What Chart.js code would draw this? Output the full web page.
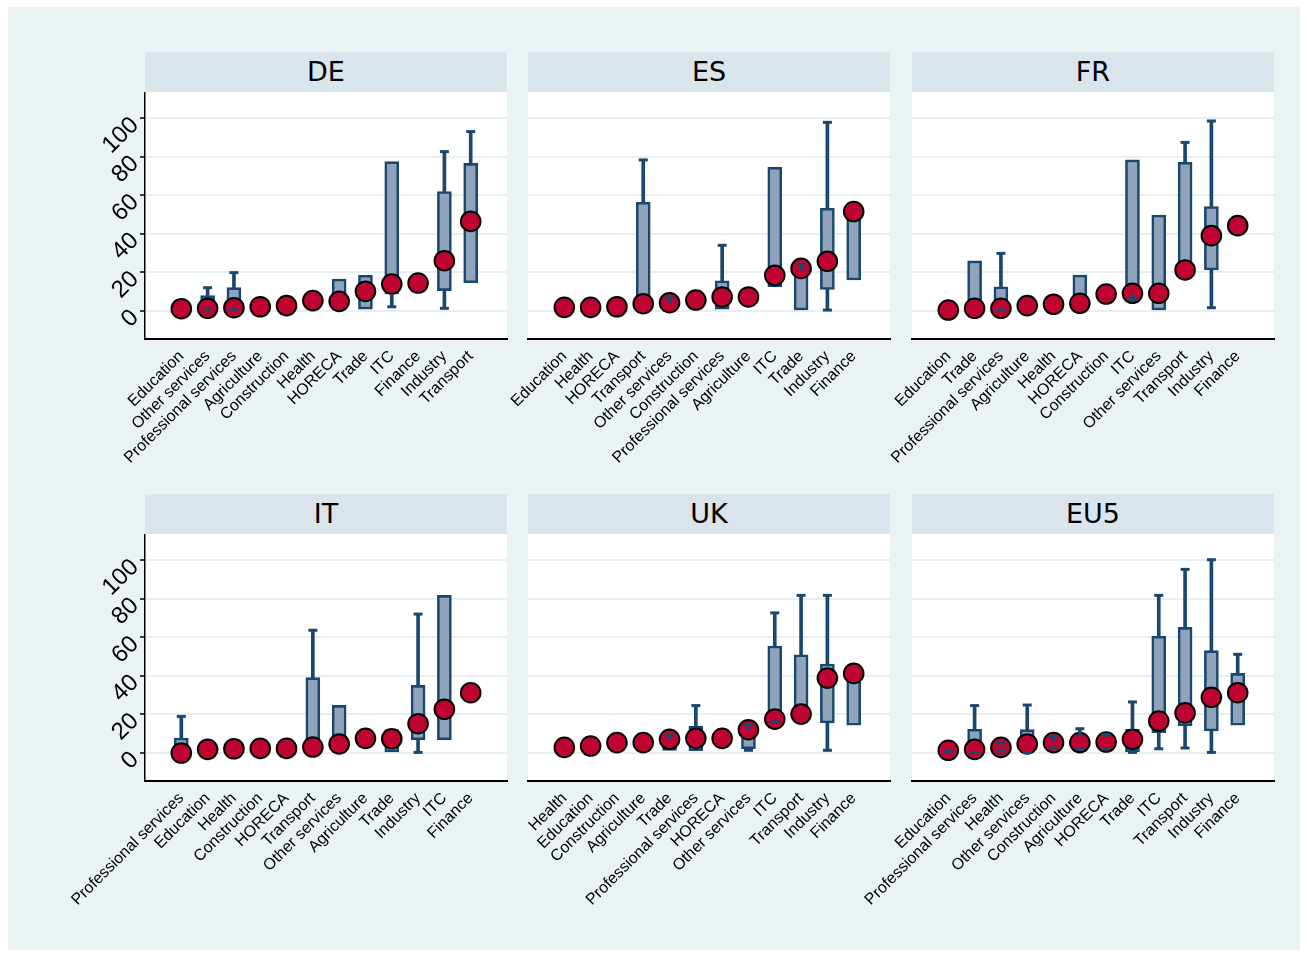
<!DOCTYPE html>
<html>
<head>
<meta charset="utf-8">
<script src="https://cdn.jsdelivr.net/npm/chart.js@4/dist/chart.umd.min.js"></script>
<style>
  html, body { margin: 0; padding: 0; background: #ffffff; }
  #frame { position: absolute; left: 8px; top: 7px; width: 1292px; height: 943px; background: #eaf2f3; }
  .band {
    position: absolute; width: 362px; height: 40px; background: #d9e5eb;
    font: 27px "DejaVu Sans", sans-serif; color: #000; text-align: center; line-height: 40px;
  }
  canvas { position: absolute; }
</style>
</head>
<body>
<div id="frame"></div>
<script>
// Shared value axis ticks
const yTickValues = [0, 20, 40, 60, 80, 100];

// DE
const deCategories = ['Education', 'Other services', 'Professional services', 'Agriculture', 'Construction', 'Health', 'HORECA', 'Trade', 'ITC', 'Finance', 'Industry', 'Transport'];
const deMedian = [1.2, 1.4, 1.7, 2.2, 2.8, 5.4, 5.0, 10.2, 14.0, 14.5, 26.1, 46.5];
const deQ1     = [null, 0.8, 0.8, null, null, null, 2.0, 1.0, 8.8, null, 10.6, 14.7];
const deQ3     = [null, 8.0, 12.1, null, null, null, 16.6, 18.5, 77.5, null, 62.0, 76.6];
const deLow    = [null, 0.5, 0.5, null, null, null, null, null, 2.2, null, 1.4, null];
const deHigh   = [null, 12.1, 19.9, null, null, null, null, null, null, null, 82.7, 93.1];

// ES
const esCategories = ['Education', 'Health', 'HORECA', 'Transport', 'Other services', 'Construction', 'Professional services', 'Agriculture', 'ITC', 'Trade', 'Industry', 'Finance'];
const esMedian = [1.9, 1.9, 2.2, 3.8, 4.3, 5.7, 7.3, 7.3, 18.5, 22.1, 25.8, 51.6];
const esQ1     = [null, null, null, 1.0, 0.0, null, 0.9, null, 12.6, 0.5, 11.2, 16.1];
const esQ3     = [null, null, null, 56.4, 4.5, null, 15.7, null, 74.6, 21.0, 53.3, 50.0];
const esLow    = [null, null, null, null, null, null, null, null, null, null, 0.5, null];
const esHigh   = [null, null, null, 78.4, 7.4, null, 34.1, null, null, 24.2, 97.9, null];

// FR
const frCategories = ['Education', 'Trade', 'Professional services', 'Agriculture', 'Health', 'HORECA', 'Construction', 'ITC', 'Other services', 'Transport', 'Industry', 'Finance'];
const frMedian = [0.5, 1.4, 1.4, 2.8, 3.5, 4.0, 8.8, 9.2, 9.2, 21.3, 39.1, 44.3];
const frQ1     = [null, 0.5, 0.8, null, null, 1.0, null, 8.8, 0.5, 18.0, 21.3, null];
const frQ3     = [null, 26.0, 12.6, null, null, 18.7, null, 78.4, 49.8, 77.2, 54.2, null];
const frLow    = [null, null, 0.5, null, null, null, null, 6.0, null, null, 1.7, null];
const frHigh   = [null, null, 29.9, null, null, null, null, null, null, 87.5, 98.6, null];

// IT
const itCategories = ['Professional services', 'Education', 'Health', 'Construction', 'HORECA', 'Transport', 'Other services', 'Agriculture', 'Trade', 'Industry', 'ITC', 'Finance'];
const itMedian = [0.0, 1.9, 2.2, 2.4, 2.4, 3.1, 4.7, 7.6, 7.4, 15.2, 22.7, 31.3];
const itQ1     = [0.0, null, null, null, null, 1.0, 0.5, null, 0.5, 6.9, 6.9, null];
const itQ3     = [7.8, null, null, null, null, 39.1, 24.7, null, 12.1, 35.1, 81.8, null];
const itLow    = [null, null, null, null, null, null, null, null, null, 0.3, null, null];
const itHigh   = [19.0, null, null, null, null, 63.7, null, null, null, 72.1, null, null];

// UK
const ukCategories = ['Health', 'Education', 'Construction', 'Agriculture', 'Trade', 'Professional services', 'HORECA', 'Other services', 'ITC', 'Transport', 'Industry', 'Finance'];
const ukMedian = [2.9, 3.6, 5.4, 5.4, 7.1, 7.6, 7.6, 12.1, 17.6, 20.2, 38.9, 41.3];
const ukQ1     = [null, null, null, null, 1.4, 1.2, null, 2.2, 16.5, 20.0, 15.6, 14.4];
const ukQ3     = [null, null, null, null, 7.0, 14.0, null, 12.0, 55.5, 51.0, 46.2, 40.0];
const ukLow    = [null, null, null, null, null, null, null, 1.4, 16.1, null, 1.4, null];
const ukHigh   = [null, null, null, null, 9.5, 24.6, null, 14.7, 72.7, 81.8, 81.8, null];

// EU5
const eu5Categories = ['Education', 'Professional services', 'Health', 'Other services', 'Construction', 'Agriculture', 'HORECA', 'Trade', 'ITC', 'Transport', 'Industry', 'Finance'];
const eu5Median = [1.4, 1.9, 2.9, 4.7, 5.4, 5.4, 5.7, 7.1, 16.6, 20.8, 28.9, 31.3];
const eu5Q1     = [1.0, 0.3, 1.0, 0.5, 3.0, 2.2, 3.0, 0.5, 10.6, 14.0, 11.4, 14.4];
const eu5Q3     = [1.0, 12.3, 5.2, 12.1, 6.5, 8.8, 8.0, 12.3, 60.6, 65.2, 53.1, 41.3];
const eu5Low    = [1.0, 0.2, 1.0, 0.3, 2.6, 1.9, 2.2, 0.3, 2.2, 2.6, 0.3, null];
const eu5High   = [1.0, 24.6, 5.2, 24.9, 8.7, 12.6, 9.7, 26.5, 81.8, 95.3, 100.3, 51.2];

const panels = [
  { title: 'DE',  cats: deCategories,  med: deMedian,  q1: deQ1,  q3: deQ3,  lo: deLow,  hi: deHigh,  col: 0, row: 0 },
  { title: 'ES',  cats: esCategories,  med: esMedian,  q1: esQ1,  q3: esQ3,  lo: esLow,  hi: esHigh,  col: 1, row: 0 },
  { title: 'FR',  cats: frCategories,  med: frMedian,  q1: frQ1,  q3: frQ3,  lo: frLow,  hi: frHigh,  col: 2, row: 0 },
  { title: 'IT',  cats: itCategories,  med: itMedian,  q1: itQ1,  q3: itQ3,  lo: itLow,  hi: itHigh,  col: 0, row: 1 },
  { title: 'UK',  cats: ukCategories,  med: ukMedian,  q1: ukQ1,  q3: ukQ3,  lo: ukLow,  hi: ukHigh,  col: 1, row: 1 },
  { title: 'EU5', cats: eu5Categories, med: eu5Median, q1: eu5Q1, q3: eu5Q3, lo: eu5Low, hi: eu5High, col: 2, row: 1 }
];

// Layout
const colLefts = [145, 528, 912];
const rowTops = [52, 494];
const BAND_H = 40, PLOT_W = 362, PLOT_H = 247;
const LEFT_GUTTER = 110, RIGHT_GUTTER = 12, BOTTOM_GUTTER = 153;

// Colours
const NAVY = '#1a476f';
const BOX_FILL = '#8fa4ba';
const DOT_FILL = '#c00432';
const GRID = '#e6eff1';
const LABEL_FONT = '"Liberation Sans", Arial, sans-serif';

// White plot region
const plotBackground = {
  id: 'plotBackground',
  beforeDraw(chart) {
    const { ctx, chartArea: a } = chart;
    ctx.save();
    ctx.fillStyle = '#ffffff';
    ctx.fillRect(a.left, a.top, a.right - a.left, a.bottom - a.top);
    ctx.restore();
  }
};

// Value-axis labels drawn at a 45 degree slant
const slantedYLabels = {
  id: 'slantedYLabels',
  afterDraw(chart, args, opts) {
    if (!opts.show) return;
    const yScale = chart.scales.y;
    const ctx = chart.ctx;
    ctx.save();
    ctx.fillStyle = '#000';
    ctx.font = '24px ' + LABEL_FONT;
    ctx.textAlign = 'right';
    ctx.textBaseline = 'middle';
    yTickValues.forEach(v => {
      const py = yScale.getPixelForValue(v);
      ctx.save();
      ctx.translate(chart.chartArea.left - 10, py + 3);
      ctx.rotate(-Math.PI / 4);
      ctx.fillText(String(v), 0, 0);
      ctx.restore();
    });
    ctx.restore();
  }
};

function buildDatasets(p) {
  const boxes = [], spikes = [], caps = [], dots = [];
  p.cats.forEach((c, i) => {
    const x = i + 1;
    if (p.q1[i] != null && p.q3[i] != null) boxes.push({ x, y: [p.q1[i], p.q3[i]] });
    if (p.lo[i] != null && p.q1[i] != null) {
      spikes.push({ x, y: [p.lo[i], p.q1[i]] });
      caps.push({ x, y: p.lo[i] });
    }
    if (p.hi[i] != null && p.q3[i] != null) {
      spikes.push({ x, y: [p.q3[i], p.hi[i]] });
      caps.push({ x, y: p.hi[i] });
    }
    dots.push({ x, y: p.med[i] });
  });
  return [
    { type: 'bar', data: boxes, backgroundColor: BOX_FILL, borderColor: NAVY, borderWidth: 2.6,
      borderSkipped: false, barThickness: 14, grouped: false, order: 3 },
    { type: 'scatter', data: dots, pointRadius: 9.8, pointBackgroundColor: DOT_FILL,
      pointBorderColor: '#000', pointBorderWidth: 2, order: 2 },
    { type: 'bar', data: spikes, backgroundColor: NAVY, borderWidth: 0, barThickness: 3,
      grouped: false, order: 1 },
    { type: 'scatter', data: caps, pointStyle: 'line', pointRadius: 4.5, pointBorderColor: NAVY,
      pointBorderWidth: 3, order: 0 }
  ];
}

panels.forEach(p => {
  const left = colLefts[p.col];
  const top = rowTops[p.row];

  const band = document.createElement('div');
  band.className = 'band';
  band.style.left = left + 'px';
  band.style.top = top + 'px';
  band.textContent = p.title;
  document.body.appendChild(band);

  const canvas = document.createElement('canvas');
  const cw = LEFT_GUTTER + PLOT_W + RIGHT_GUTTER;
  const ch = PLOT_H + BOTTOM_GUTTER;
  canvas.width = cw; canvas.height = ch;
  canvas.style.width = cw + 'px'; canvas.style.height = ch + 'px';
  canvas.style.left = (left - LEFT_GUTTER) + 'px';
  canvas.style.top = (top + BAND_H) + 'px';
  document.body.appendChild(canvas);

  const firstCol = p.col === 0;
  const n = p.cats.length;

  new Chart(canvas, {
    data: { datasets: buildDatasets(p) },
    plugins: [plotBackground, slantedYLabels],
    options: {
      responsive: false,
      animation: false,
      events: [],
      layout: { autoPadding: false, padding: { left: 0, top: 0, right: RIGHT_GUTTER, bottom: 0 } },
      plugins: {
        legend: { display: false },
        tooltip: { enabled: false },
        slantedYLabels: { show: firstCol }
      },
      scales: {
        x: {
          type: 'linear',
          offset: false,
          min: 1 - 1.38,
          max: n + 1.38,
          afterBuildTicks: scale => { scale.ticks = p.cats.map((c, i) => ({ value: i + 1 })); },
          afterFit: scale => { scale.height = BOTTOM_GUTTER; },
          grid: { display: false },
          border: { display: true, color: '#000', width: 2 },
          ticks: {
            autoSkip: false,
            minRotation: 45,
            maxRotation: 45,
            padding: 0,
            color: '#000',
            font: { family: LABEL_FONT, size: 16 },
            callback: v => p.cats[Math.round(v) - 1] ?? ''
          }
        },
        y: {
          type: 'linear',
          min: -14.53,
          max: 113.65,
          afterBuildTicks: scale => { scale.ticks = yTickValues.map(v => ({ value: v })); },
          afterFit: scale => { scale.width = LEFT_GUTTER; },
          grid: {
            color: GRID, lineWidth: 2,
            drawTicks: firstCol, tickLength: 5, tickColor: '#000', tickWidth: 1.5
          },
          border: { display: firstCol, color: '#000', width: 1.5 },
          ticks: { display: false }
        }
      }
    }
  });
});
</script>
</body>
</html>
